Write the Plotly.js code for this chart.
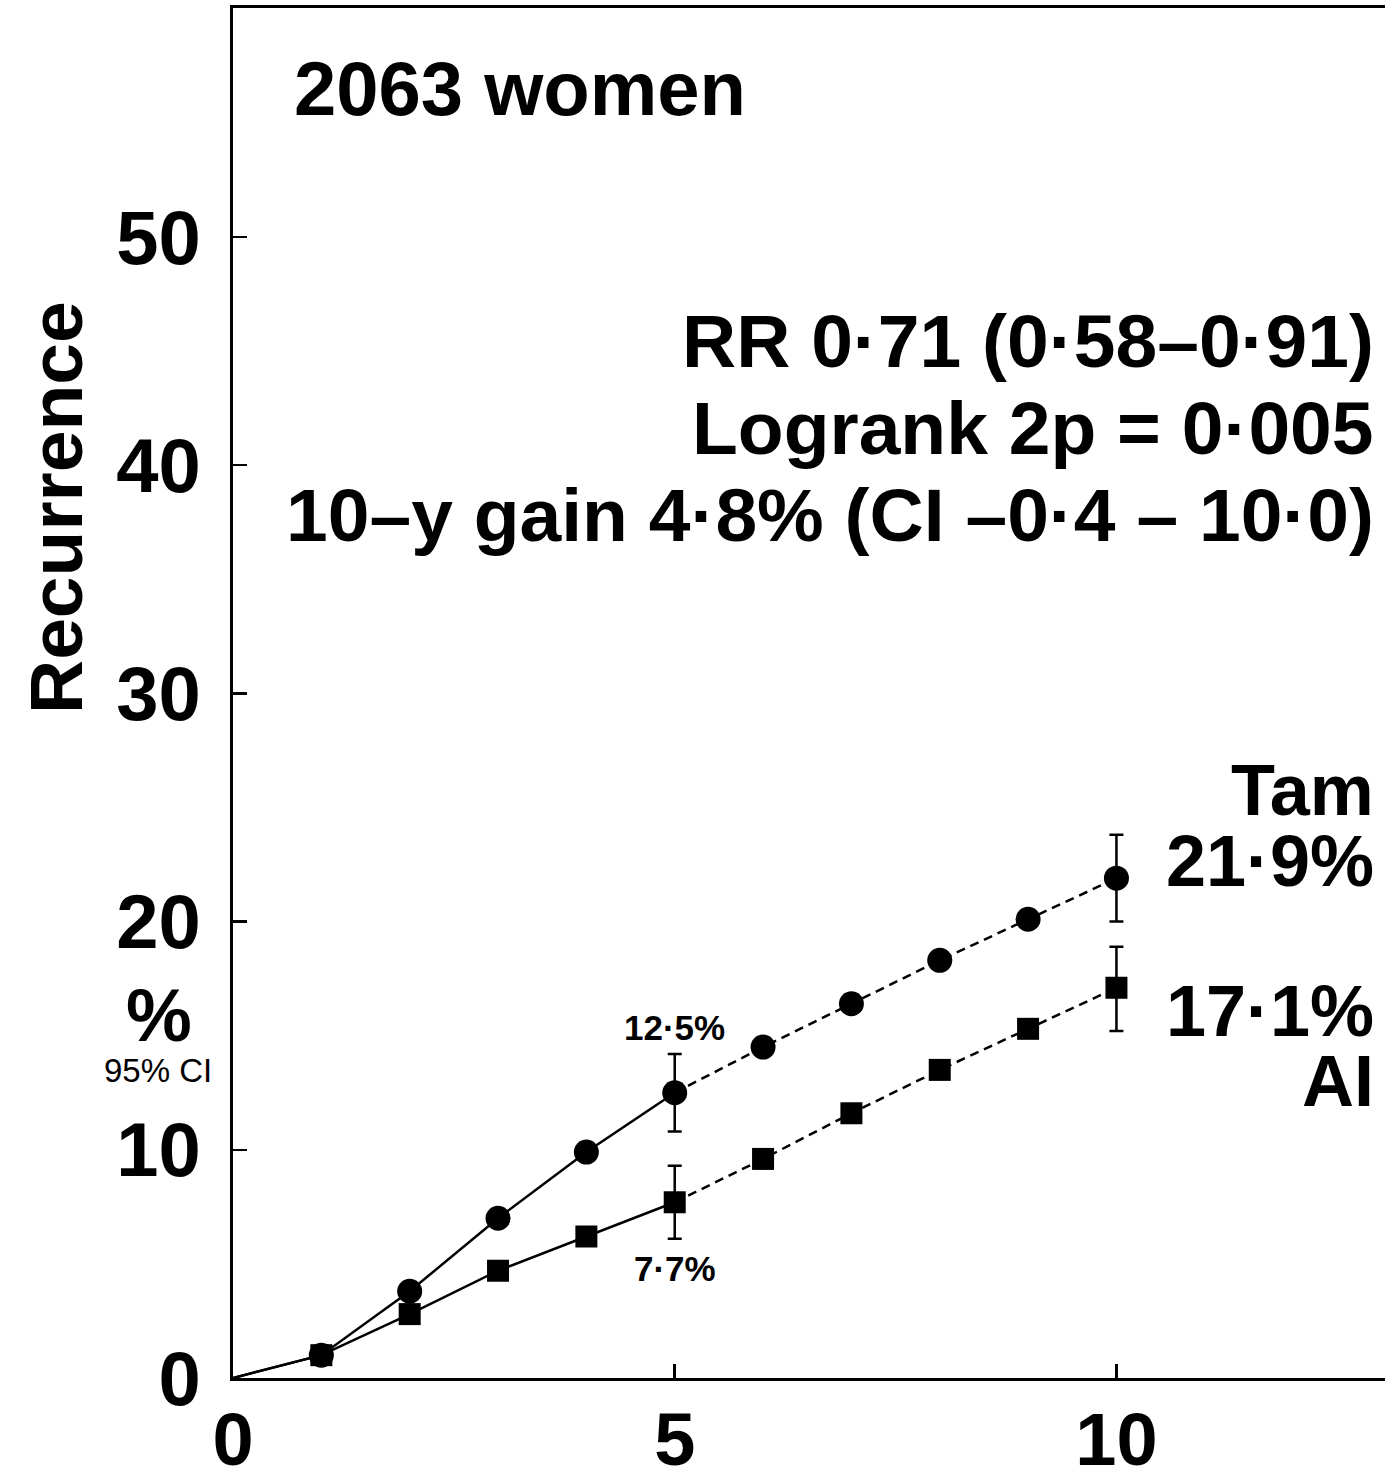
<!DOCTYPE html>
<html>
<head>
<meta charset="utf-8">
<script src="https://cdn.plot.ly/plotly-3.0.1.min.js"></script>
<style>
  html, body { margin: 0; padding: 0; background: #fff; }
  #chart { width: 1385px; height: 1477px; }
</style>
</head>
<body>
<div id="chart"></div>
<script>
// Cumulative recurrence (%) by year since start of treatment
const years = [0, 1, 2, 3, 4, 5, 6, 7, 8, 9, 10];
const tamRecurrence = [0, 1.0, 3.8, 7.0, 9.9, 12.5, 14.5, 16.4, 18.3, 20.1, 21.9];
const aiRecurrence  = [0, 1.0, 2.8, 4.7, 6.2, 7.7, 9.6, 11.6, 13.5, 15.3, 17.1];

// 95% confidence intervals at 5 and 10 years
const ciYears = [5, 10];
const tamCiLow  = [10.8, 20.0];
const tamCiHigh = [14.2, 23.8];
const aiCiLow   = [6.1, 15.2];
const aiCiHigh  = [9.3, 18.9];

const xTicks = [0, 5, 10];
const yTicks = [0, 10, 20, 30, 40, 50];

const FONT = '"Liberation Sans", Arial, Helvetica, sans-serif';
const INK = '#000';
const SOLID_END = 5; // years 0-5 drawn solid, 5-10 dashed

function segment(xs, ys, from, to) {
  const sx = [], sy = [];
  xs.forEach((x, i) => { if (x >= from && x <= to) { sx.push(x); sy.push(ys[i]); } });
  return { x: sx, y: sy };
}

function lineTrace(xs, ys, from, to, dash) {
  const s = segment(xs, ys, from, to);
  return { x: s.x, y: s.y, type: 'scatter', mode: 'lines',
           line: { color: INK, width: 2.5, dash: dash }, hoverinfo: 'skip' };
}

function markerTrace(xs, ys, symbol, size) {
  const s = segment(xs, ys, 1, 10);
  return { x: s.x, y: s.y, type: 'scatter', mode: 'markers',
           marker: { symbol: symbol, size: size, color: INK, line: { width: 0 } } };
}

function ciTrace(xs, mid, low, high) {
  const yMid = xs.map(x => mid[years.indexOf(x)]);
  return {
    x: xs, y: yMid, type: 'scatter', mode: 'markers',
    marker: { size: 1, color: 'rgba(0,0,0,0)' },
    error_y: { type: 'data', symmetric: false,
               array: high.map((h, i) => +(h - yMid[i]).toFixed(2)),
               arrayminus: low.map((l, i) => +(yMid[i] - l).toFixed(2)),
               color: INK, thickness: 2.5, width: 7 },
    hoverinfo: 'skip'
  };
}

const traces = [
  lineTrace(years, tamRecurrence, 0, SOLID_END, 'solid'),
  lineTrace(years, tamRecurrence, SOLID_END, 10, '9px,6px'),
  lineTrace(years, aiRecurrence, 0, SOLID_END, 'solid'),
  lineTrace(years, aiRecurrence, SOLID_END, 10, '9px,6px'),
  ciTrace(ciYears, tamRecurrence, tamCiLow, tamCiHigh),
  ciTrace(ciYears, aiRecurrence, aiCiLow, aiCiHigh),
  markerTrace(years, tamRecurrence, 'circle', 25),
  markerTrace(years, aiRecurrence, 'square', 22)
];

const tam5 = tamRecurrence[years.indexOf(5)];
const ai5 = aiRecurrence[years.indexOf(5)];
const tam10 = tamRecurrence[years.indexOf(10)];
const ai10 = aiRecurrence[years.indexOf(10)];
const pct = v => v.toFixed(1).replace('.', '·') + '%';

function note(text, x, y, size, opts) {
  return Object.assign({
    text: text, x: x, y: y, xref: 'paper', yref: 'paper',
    showarrow: false, font: { family: FONT, size: size, color: INK },
    xanchor: 'right', yanchor: 'middle'
  }, opts || {});
}

// paper coordinates: plot spans 1152 px wide, 1370 px tall
const px = v => (v - 233) / 1152;
const py = v => (1378 - v) / 1370;

const annotations = [
  note('<b>2063 women</b>', px(292), py(88), 76, { xanchor: 'left' }),
  note('<b>RR 0·71 (0·58–0·91)</b>', px(1376), py(341), 75),
  note('<b>Logrank 2p = 0·005</b>', px(1376), py(428), 75),
  note('<b>10–y gain 4·8% (CI –0·4 – 10·0)</b>', px(1376), py(515), 75),
  note('<b>Tam</b>', px(1376), py(790), 72),
  note('<b>' + pct(tam10) + '</b>', px(1376), py(861), 72),
  note('<b>' + pct(ai10) + '</b>', px(1376), py(1011), 72),
  note('<b>AI</b>', px(1376), py(1081), 72),
  note('<b>' + pct(tam5) + '</b>', 5, py(1027), 35, { xref: 'x', xanchor: 'center' }),
  note('<b>' + pct(ai5) + '</b>', 5, py(1268), 35, { xref: 'x', xanchor: 'center' }),
  note('<b>Recurrence</b>', px(56), py(508), 75, { xanchor: 'center', textangle: -90 }),
  note('<b>%</b>', px(159), py(1016), 74, { xanchor: 'center' }),
  note('95% CI', px(158), py(1070), 33, { xanchor: 'center' })
];

const layout = {
  width: 1385, height: 1477,
  margin: { l: 233, r: 0, t: 8, b: 99, pad: 0 },
  paper_bgcolor: '#fff', plot_bgcolor: '#fff',
  showlegend: false,
  font: { family: FONT, color: INK },
  xaxis: {
    range: [0, 13.04], tickvals: xTicks, ticktext: xTicks.map(String),
    ticks: 'inside', ticklen: 14, tickwidth: 2.5, tickcolor: INK,
    showline: true, linewidth: 3, linecolor: INK, mirror: true,
    showgrid: false, zeroline: false,
    tickfont: { family: FONT, size: 74, color: INK, weight: 'bold' },
    ticklabelstandoff: -5
  },
  yaxis: {
    range: [0, 60.03], tickvals: yTicks, ticktext: yTicks.map(String),
    ticks: 'inside', ticklen: 14, tickwidth: 2.5, tickcolor: INK,
    showline: true, linewidth: 3, linecolor: INK,
    showgrid: false, zeroline: false,
    tickfont: { family: FONT, size: 76, color: INK, weight: 'bold' },
    ticklabelstandoff: 14
  },
  annotations: annotations
};

Plotly.newPlot('chart', traces, layout, { staticPlot: true, displayModeBar: false });
</script>
</body>
</html>
